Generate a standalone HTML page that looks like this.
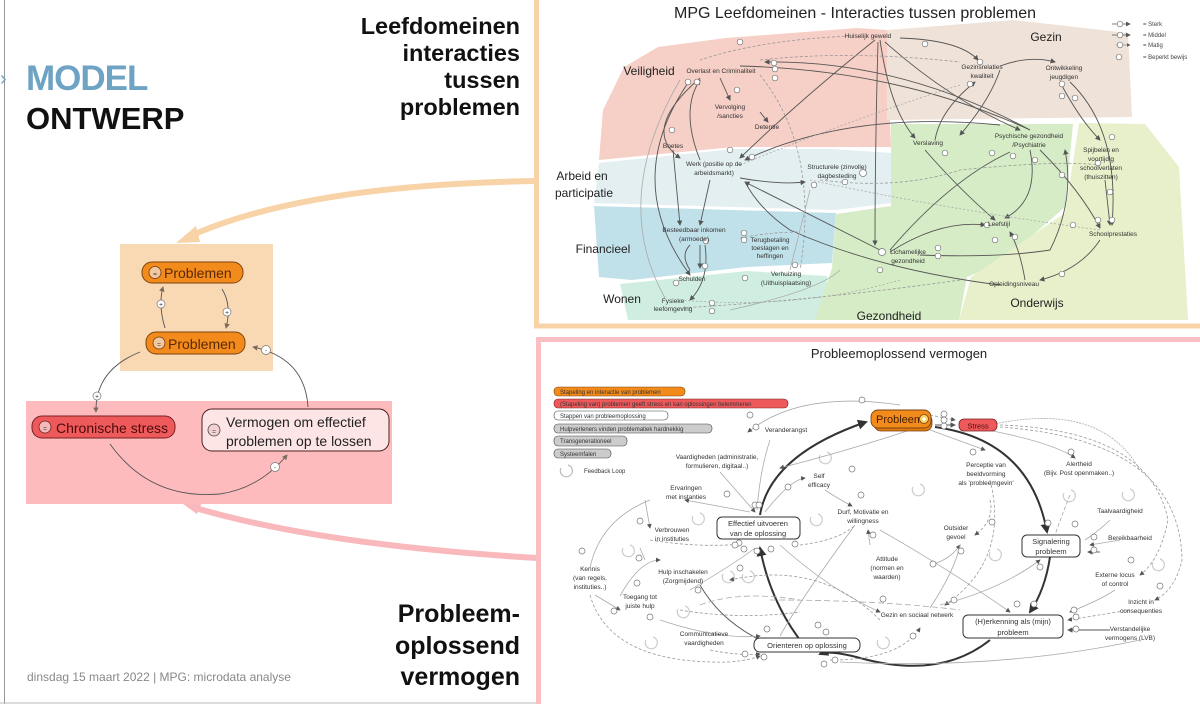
<!DOCTYPE html>
<html><head><meta charset="utf-8"><style>
html,body{margin:0;padding:0;background:#fff;}
svg{display:block;font-family:"Liberation Sans",sans-serif;}
.s{font-size:6.5px;fill:#333;text-anchor:middle;}
.m{font-size:7.5px;fill:#333;text-anchor:middle;}
.r{font-size:12px;fill:#222;text-anchor:middle;}
.d{fill:none;stroke:#555;stroke-width:0.9;}
.l{fill:none;stroke:#aaa;stroke-width:0.8;}
.ld{fill:none;stroke:#999;stroke-width:0.8;stroke-dasharray:3 2;}
.b{fill:none;stroke:#333;stroke-width:2;}
.c{fill:#fff;stroke:#777;stroke-width:0.7;}
</style></head><body>
<svg width="1200" height="704" viewBox="0 0 1200 704">
<defs>
<marker id="a" markerWidth="6" markerHeight="6" refX="5" refY="3" orient="auto"><path d="M0,0L6,3L0,6z" fill="#555"/></marker>
<marker id="ab" markerWidth="5" markerHeight="5" refX="4" refY="2.5" orient="auto"><path d="M0,0L5,2.5L0,5z" fill="#333"/></marker>
<marker id="ag" markerWidth="6" markerHeight="6" refX="5" refY="3" orient="auto"><path d="M0,0L6,3L0,6z" fill="#7a6a5a"/></marker>
</defs>
<line x1="4.5" y1="0" x2="4.5" y2="704" stroke="#999" stroke-width="1"/>
<line x1="0" y1="703" x2="540" y2="703" stroke="#bbb" stroke-width="1"/>
<text x="0" y="85" font-size="20" fill="#6fa3c4">›</text>
<text x="26" y="90" font-size="35" font-weight="bold" fill="#6fa3c4" style="letter-spacing:-1px">MODEL</text>
<text x="26" y="129" font-size="31" font-weight="bold" fill="#111">ONTWERP</text>
<g font-size="23.5" font-weight="bold" fill="#111" text-anchor="end">
<text x="520" y="34">Leefdomeinen</text><text x="520" y="61">interacties</text><text x="520" y="88">tussen</text><text x="520" y="115">problemen</text>
</g>
<g font-size="25" font-weight="bold" fill="#111" text-anchor="end">
<text x="520" y="622">Probleem-</text><text x="520" y="654">oplossend</text><text x="520" y="685">vermogen</text>
</g>
<text x="27" y="681" font-size="12" fill="#888">dinsdag 15 maart 2022 | MPG: microdata analyse</text>

<path d="M535,181 Q300,185 186,238" fill="none" stroke="#f8d3a8" stroke-width="6"/>
<path d="M176,243 L196,226 L200,242z" fill="#f8d3a8"/>
<path d="M537,558 Q320,545 192,507" fill="none" stroke="#f9b8bb" stroke-width="6"/>
<path d="M183,504 L203,500 L197,514z" fill="#f9b8bb"/>

<rect x="120" y="244" width="153" height="127" fill="#f9d9b3"/>
<rect x="26" y="401" width="366" height="103" fill="#fdbbbe"/>
<path d="M165,328 Q158,305 163,287" class="d" stroke="#888" marker-end="url(#ag)"/>
<circle cx="161" cy="304" r="4" class="c"/><text x="161" y="306.5" class="s" font-size="6">+</text>
<path d="M222,289 Q232,305 226,328" class="d" stroke="#888" marker-end="url(#ag)"/>
<circle cx="227" cy="312" r="4" class="c"/><text x="227" y="314.5" class="s" font-size="6">+</text>
<path d="M140,352 Q95,370 96,412" class="d" stroke="#888" marker-end="url(#ag)"/>
<circle cx="97" cy="396" r="4" class="c"/><text x="97" y="398.5" class="s" font-size="6">+</text>
<path d="M308,407 Q305,358 253,347" class="d" stroke="#888" marker-end="url(#ag)"/>
<circle cx="266" cy="350" r="4.5" class="c"/><text x="266" y="352.5" class="s" font-size="7">-</text>
<path d="M110,444 Q150,500 220,494 Q260,488 287,455" class="d" stroke="#888" marker-end="url(#ag)"/>
<circle cx="275" cy="467" r="4.5" class="c"/><text x="275" y="469.5" class="s" font-size="7">-</text>
<rect x="142" y="262" width="101" height="21" rx="10" fill="#f28b1b" stroke="#7a4310" stroke-width="1"/>
<circle cx="155" cy="272.5" r="6" fill="#f3c7a0" stroke="#6b3a10" stroke-width="0.8"/><text x="155" y="276" class="s" font-size="9" fill="#333">=</text>
<text x="164" y="278" font-size="14" fill="#5a2a05">Problemen</text>
<rect x="146" y="332" width="99" height="22" rx="10" fill="#f28b1b" stroke="#7a4310" stroke-width="1"/>
<circle cx="159" cy="343" r="6" fill="#f3c7a0" stroke="#6b3a10" stroke-width="0.8"/><text x="159" y="346.5" class="s" font-size="9">=</text>
<text x="168" y="349" font-size="14" fill="#5a2a05">Problemen</text>
<rect x="32" y="416" width="143" height="22" rx="10" fill="#ee5a5c" stroke="#7a2020" stroke-width="1"/>
<circle cx="45" cy="427" r="6" fill="#f3b8b8" stroke="#6b2020" stroke-width="0.8"/><text x="45" y="430.5" class="s" font-size="9">=</text>
<text x="56" y="433" font-size="14" fill="#4a0a0a">Chronische stress</text>
<rect x="202" y="409" width="187" height="42" rx="10" fill="#fde5e6" stroke="#4a2020" stroke-width="1"/>
<circle cx="214" cy="430" r="6" fill="#f5d0d0" stroke="#444" stroke-width="0.8"/><text x="214" y="433.5" class="s" font-size="9">=</text>
<text x="226" y="427" font-size="14" fill="#222">Vermogen om effectief</text>
<text x="226" y="446" font-size="14" fill="#222">problemen op te lossen</text>

<!-- TOP RIGHT PANEL -->
<rect x="536.5" y="-3" width="666" height="329" fill="#fff" stroke="#f8d3a8" stroke-width="5"/>
<polygon points="658,47 726,38 857,28 887,30 891,147 832,147 734,147 599,160 603,110 624,67" fill="#f6cfc6"/>
<polygon points="887,30 1014,20 1128,33 1132,117 887,120" fill="#efe2d8"/>
<polygon points="599,163 734,149 832,149 891,153 891,203 836,210 594,203" fill="#e4eff2"/>
<polygon points="594,206 836,213 832,263 747,267 632,280 599,277" fill="#c1e1ea"/>
<polygon points="620,284 747,271 827,276 827,320 628,320" fill="#cfeee1"/>
<polygon points="891,124 1073,124 1065,207 1001,263 967,277 959,320 815,320 832,268 836,214 891,206" fill="#d6ecc6"/>
<polygon points="1079,123 1145,124 1179,167 1188,320 959,320 971,277 1065,213" fill="#e7f0ca"/>
<text x="855" y="18" font-size="16" fill="#222" text-anchor="middle">MPG Leefdomeinen - Interacties tussen problemen</text>
<g font-size="6" fill="#444">
<line x1="1112" y1="24" x2="1130" y2="24" stroke="#555" stroke-width="0.8" marker-end="url(#a)"/><circle cx="1120" cy="24" r="2.8" class="c"/><text x="1143" y="26">= Sterk</text>
<line x1="1112" y1="35" x2="1130" y2="35" stroke="#555" stroke-width="0.8" marker-end="url(#a)"/><circle cx="1120" cy="35" r="2.8" class="c"/><text x="1143" y="37">= Middel</text>
<line x1="1116" y1="45" x2="1130" y2="45" stroke="#777" stroke-width="0.6" marker-end="url(#a)"/><circle cx="1120" cy="45" r="2.8" class="c"/><text x="1143" y="47">= Matig</text>
<circle cx="1119" cy="57" r="2.8" class="c"/><text x="1143" y="59">= Beperkt bewijs</text>
</g>
<g class="r" font-size="12">
<text x="1046" y="41">Gezin</text><text x="649" y="75">Veiligheid</text>
<text x="582" y="180">Arbeid en</text><text x="584" y="197">participatie</text>
<text x="603" y="253">Financieel</text><text x="622" y="303">Wonen</text>
<text x="889" y="320">Gezondheid</text><text x="1037" y="307">Onderwijs</text>
</g>
<g>
<path d="M850,36 Q760,40 700,60" class="ld"/>
<path d="M900,38 Q960,40 978,60" class="d" marker-end="url(#a)"/>
<path d="M1000,66 Q1030,55 1055,62" class="d" marker-end="url(#a)"/>
<path d="M875,40 Q800,100 740,158" class="d" marker-end="url(#a)"/>
<path d="M880,40 Q890,110 915,138" class="d" marker-end="url(#a)"/>
<path d="M878,42 Q875,150 875,245" class="d" marker-end="url(#a)"/>
<path d="M885,42 Q950,100 1020,130" class="d" marker-end="url(#a)"/>
<path d="M740,66 Q900,70 1030,130" class="d"/>
<path d="M1030,130 Q900,60 765,62" class="d" marker-end="url(#a)"/>
<path d="M700,78 Q640,130 680,158" class="d" marker-end="url(#a)"/>
<path d="M690,80 Q620,180 690,275" class="d" marker-end="url(#a)"/>
<path d="M680,80 Q610,200 665,298" class="l"/>
<path d="M720,78 L730,100" class="d" marker-end="url(#a)"/>
<path d="M760,112 L768,122" class="d" marker-end="url(#a)"/>
<path d="M673,150 L680,225" class="d" marker-end="url(#a)"/>
<path d="M700,160 Q680,110 700,80" class="d" marker-end="url(#a)"/>
<path d="M760,75 Q820,150 800,270" class="ld"/>
<path d="M740,178 Q780,185 805,182" class="d" marker-end="url(#a)"/>
<path d="M1000,125 Q850,110 745,160" class="d" marker-end="url(#a)"/>
<path d="M710,180 L700,225" class="d" marker-end="url(#a)"/>
<path d="M700,245 L700,268" class="d" marker-end="url(#a)"/>
<path d="M690,270 Q680,255 690,245" class="d"/>
<path d="M705,245 Q710,280 690,300" class="d" marker-end="url(#a)"/>
<path d="M880,250 Q800,210 745,182" class="d" marker-end="url(#a)"/>
<path d="M1000,285 Q880,270 790,230 Q760,210 745,182" class="d"/>
<path d="M890,250 Q950,180 1010,152" class="d"/>
<path d="M890,252 Q940,220 985,225" class="d" marker-end="url(#a)"/>
<path d="M925,150 Q960,190 995,220" class="d" marker-end="url(#a)"/>
<path d="M1030,150 Q1040,200 1005,218" class="d" marker-end="url(#a)"/>
<path d="M920,255 Q1000,258 1050,250 Q1075,200 1065,150" class="d" marker-end="url(#a)"/>
<path d="M1000,70 Q990,100 960,135" class="d" marker-end="url(#a)"/>
<path d="M935,140 Q940,110 975,82" class="d" marker-end="url(#a)"/>
<path d="M1060,82 Q1080,120 1100,140" class="d" marker-end="url(#a)"/>
<path d="M1070,82 Q1120,130 1112,225" class="d" marker-end="url(#a)"/>
<path d="M1105,180 L1110,225" class="d" marker-end="url(#a)"/>
<path d="M1100,240 Q1080,270 1040,280" class="d" marker-end="url(#a)"/>
<path d="M1040,150 Q1080,190 1100,228" class="d" marker-end="url(#a)"/>
<path d="M1025,280 Q1020,250 1010,232" class="d" marker-end="url(#a)"/>
<path d="M820,180 Q900,190 960,170 Q1060,160 1100,165" class="ld"/>
<path d="M810,180 Q950,210 1100,230" class="l" stroke-dasharray="2 2"/>
<path d="M960,280 Q820,300 680,308" class="ld"/>
<path d="M900,280 Q800,310 680,300" class="l" stroke-dasharray="2 2"/>
<path d="M730,310 Q820,290 840,270" class="l"/>
<path d="M740,165 Q850,120 960,85" class="l" stroke-dasharray="2 2"/>
<path d="M760,60 Q850,50 960,62" class="ld"/>
<path d="M790,270 Q800,230 810,190" class="l"/>
<path d="M740,238 Q770,232 800,232" class="ld"/>
</g>
<g>
<circle cx="740" cy="42" r="2.8" class="c"/><circle cx="925" cy="44" r="2.8" class="c"/><circle cx="980" cy="62" r="2.8" class="c"/><circle cx="774" cy="63" r="2.8" class="c"/><circle cx="775" cy="69" r="2.8" class="c"/><circle cx="775" cy="78" r="2.8" class="c"/><circle cx="688" cy="82" r="2.8" class="c"/><circle cx="697" cy="82" r="2.8" class="c"/><circle cx="737" cy="90" r="2.8" class="c"/><circle cx="672" cy="130" r="2.8" class="c"/><circle cx="730" cy="150" r="2.8" class="c"/><circle cx="752" cy="157" r="2.8" class="c"/><circle cx="814" cy="185" r="2.8" class="c"/><circle cx="863" cy="173" r="3.5" class="c"/><circle cx="945" cy="153" r="2.8" class="c"/><circle cx="992" cy="153" r="2.8" class="c"/><circle cx="1013" cy="156" r="2.8" class="c"/><circle cx="1035" cy="160" r="2.8" class="c"/><circle cx="1062" cy="175" r="2.8" class="c"/><circle cx="1098" cy="163" r="2.8" class="c"/><circle cx="1110" cy="192" r="2.8" class="c"/><circle cx="1098" cy="220" r="2.8" class="c"/><circle cx="1112" cy="220" r="2.8" class="c"/><circle cx="1073" cy="225" r="2.8" class="c"/><circle cx="987" cy="225" r="2.8" class="c"/><circle cx="995" cy="240" r="2.8" class="c"/><circle cx="1015" cy="237" r="2.8" class="c"/><circle cx="938" cy="248" r="2.8" class="c"/><circle cx="938" cy="256" r="2.8" class="c"/><circle cx="882" cy="252" r="3.5" class="c"/><circle cx="880" cy="270" r="2.8" class="c"/><circle cx="744" cy="233" r="2.8" class="c"/><circle cx="744" cy="240" r="2.8" class="c"/><circle cx="745" cy="278" r="2.8" class="c"/><circle cx="706" cy="241" r="2.8" class="c"/><circle cx="705" cy="266" r="2.8" class="c"/><circle cx="676" cy="283" r="2.8" class="c"/><circle cx="712" cy="303" r="2.8" class="c"/><circle cx="712" cy="311" r="2.8" class="c"/><circle cx="1062" cy="96" r="2.8" class="c"/><circle cx="1075" cy="98" r="2.8" class="c"/><circle cx="1112" cy="137" r="2.8" class="c"/><circle cx="1062" cy="84" r="2.8" class="c"/><circle cx="970" cy="84" r="2.8" class="c"/><circle cx="1062" cy="274" r="2.8" class="c"/><circle cx="795" cy="265" r="2.8" class="c"/><circle cx="845" cy="182" r="2.8" class="c"/>
</g>
<g class="s">
<text x="868" y="38">Huiselijk geweld</text>
<text x="721" y="73">Overlast en Criminaliteit</text>
<text x="982" y="69">Gezinsrelaties</text><text x="982" y="78">kwaliteit</text>
<text x="1064" y="70">Ontwikkeling</text><text x="1064" y="79">jeugdigen</text>
<text x="730" y="109">Vervolging</text><text x="730" y="118">/sancties</text>
<text x="767" y="129">Detentie</text>
<text x="673" y="148">Boetes</text>
<text x="714" y="166">Werk (positie op de</text><text x="714" y="175">arbeidsmarkt)</text>
<text x="837" y="169">Structurele (zinvolle)</text><text x="837" y="178">dagbesteding</text>
<text x="928" y="145">Verslaving</text>
<text x="1029" y="138">Psychische gezondheid</text><text x="1029" y="147">/Psychiatrie</text>
<text x="1101" y="152">Spijbelen en</text><text x="1101" y="161">voortijdig</text><text x="1101" y="170">schoolverlaten</text><text x="1101" y="179">(thuiszitten)</text>
<text x="694" y="232">Besteedbaar inkomen</text><text x="694" y="241">(armoede)</text>
<text x="770" y="242">Terugbetaling</text><text x="770" y="250">toeslagen en</text><text x="770" y="258">heffingen</text>
<text x="908" y="254">Lichamelijke</text><text x="908" y="263">gezondheid</text>
<text x="999" y="226">Leefstijl</text>
<text x="1113" y="236">Schoolprestaties</text>
<text x="692" y="281">Schulden</text>
<text x="786" y="276">Verhuizing</text><text x="786" y="285">(Uithuisplaatsing)</text>
<text x="1014" y="286">Opleidingsniveau</text>
<text x="673" y="303">Fysieke</text><text x="673" y="311">leefomgeving</text>
</g>

<!-- BOTTOM RIGHT PANEL -->
<rect x="538.5" y="339.5" width="664" height="370" fill="#fff" stroke="#f9bfc2" stroke-width="5"/>
<text x="899" y="358" font-size="13" fill="#222" text-anchor="middle">Probleemoplossend vermogen</text>
<g font-size="6" fill="#333">
<rect x="554" y="387" width="131" height="9" rx="4" fill="#f28b1b" stroke="#7a4310" stroke-width="0.6"/><text x="560" y="394">Stapeling en interactie van problemen</text>
<rect x="554" y="399" width="234" height="9" rx="4" fill="#ee5a5c" stroke="#7a2020" stroke-width="0.6"/><text x="560" y="406">(Stapeling van) problemen geeft stress en kan oplossingen belemmeren</text>
<rect x="554" y="411" width="114" height="9" rx="4" fill="#fff" stroke="#444" stroke-width="0.6"/><text x="560" y="418">Stappen van probleemoplossing</text>
<rect x="554" y="424" width="158" height="9" rx="4" fill="#ccc" stroke="#444" stroke-width="0.6"/><text x="560" y="431">Hulpverleners vinden problematiek hardnekkig</text>
<rect x="554" y="436" width="73" height="10" rx="4" fill="#ccc" stroke="#444" stroke-width="0.6"/><text x="560" y="443">Transgenerationeel</text>
<rect x="554" y="449" width="57" height="9" rx="4" fill="#ccc" stroke="#444" stroke-width="0.6"/><text x="560" y="456">Systeemfalen</text>
<path d="M568,465 A6,6 0 1 1 561,468" fill="none" stroke="#bbb" stroke-width="1.2"/><text x="584" y="473">Feedback Loop</text>
</g>
<g fill="none" stroke="#ccc" stroke-width="1.2">
<path d="M827,452 A6,6 0 1 1 820,455"/><path d="M920,484 A6,6 0 1 1 913,487"/><path d="M1071,490 A6,6 0 1 1 1064,493"/><path d="M1130,489 A6,6 0 1 1 1123,492"/><path d="M700,513 A6,6 0 1 1 693,516"/><path d="M818,514 A6,6 0 1 1 811,517"/><path d="M997,549 A6,6 0 1 1 990,552"/><path d="M1160,559 A6,6 0 1 1 1153,562"/><path d="M630,545 A6,6 0 1 1 623,548"/><path d="M730,571 A6,6 0 1 1 723,574"/><path d="M685,606 A6,6 0 1 1 678,609"/><path d="M885,637 A6,6 0 1 1 878,640"/><path d="M653,637 A6,6 0 1 1 646,640"/><path d="M750,571 A6,6 0 1 1 743,574"/>
</g>
<path d="M800,640 Q770,600 760,548" class="b" marker-end="url(#ab)"/>
<path d="M760,515 Q770,455 866,422" class="b" marker-end="url(#ab)"/>
<path d="M935,427 Q1030,440 1047,532" class="b" marker-end="url(#ab)"/>
<path d="M1050,557 Q1045,590 1030,612" class="b" marker-end="url(#ab)"/>
<path d="M990,640 Q940,680 860,658 Q830,650 820,654" class="b" marker-end="url(#ab)"/>
<g>
<path d="M935,425 L955,425" class="d" marker-end="url(#a)"/>
<path d="M930,415 L955,420" class="ld" marker-end="url(#a)"/>
<path d="M900,405 Q800,390 748,432" class="l" marker-end="url(#a)"/>
<path d="M910,430 Q850,450 780,468" class="l" marker-end="url(#a)"/>
<path d="M930,430 L985,450" class="l" marker-end="url(#a)"/>
<path d="M960,425 Q1050,440 1075,458" class="l" marker-end="url(#a)"/>
<path d="M1000,425 Q1150,430 1168,520 Q1160,560 1140,575" class="ld" marker-end="url(#a)"/>
<path d="M1000,427 Q1180,440 1182,560 Q1175,590 1155,600" class="ld" marker-end="url(#a)"/>
<path d="M990,425 Q1100,400 1140,470" class="l" stroke-dasharray="2 1"/>
<path d="M770,440 Q760,470 757,510" class="l"/>
<path d="M720,472 L755,512" class="l" marker-end="url(#a)"/>
<path d="M765,512 Q790,480 805,478" class="l" marker-end="url(#a)"/>
<path d="M750,512 L685,500" class="l" marker-end="url(#a)"/>
<path d="M825,490 Q840,500 852,506" class="l" marker-end="url(#a)"/>
<path d="M800,545 Q840,540 855,525" class="ld"/>
<path d="M650,540 Q700,548 740,544" class="ld" marker-end="url(#a)"/>
<path d="M855,525 Q800,600 780,636" class="l"/>
<path d="M870,545 L868,530" class="l" marker-end="url(#a)"/>
<path d="M880,530 Q950,570 1010,612" class="l" marker-end="url(#a)"/>
<path d="M930,565 Q950,560 960,545" class="l" marker-end="url(#a)"/>
<path d="M930,608 Q955,570 960,545" class="l"/>
<path d="M990,500 Q995,520 975,535" class="ld" marker-end="url(#a)"/>
<path d="M990,480 Q1010,560 945,605" class="ld" marker-end="url(#a)"/>
<path d="M940,605 Q1000,590 1040,560" class="l" marker-end="url(#a)"/>
<path d="M1070,495 Q1060,520 1055,535" class="l" stroke-dasharray="4 2"/>
<path d="M1110,520 Q1100,530 1085,540" class="l"/>
<path d="M1120,540 L1090,545" class="l" marker-end="url(#a)"/>
<path d="M1100,552 L1088,552" class="d" marker-end="url(#a)"/>
<path d="M1115,590 Q1100,600 1070,612" class="l" marker-end="url(#a)"/>
<path d="M1130,610 L1068,620" class="ld" marker-end="url(#a)"/>
<path d="M1110,630 L1068,630" class="d" marker-end="url(#a)"/>
<path d="M780,545 Q830,590 880,612" class="l" marker-end="url(#a)"/>
<path d="M880,620 Q820,560 730,580" class="ld" marker-end="url(#a)"/>
<path d="M700,585 Q720,620 760,640" class="d" marker-end="url(#a)"/>
<path d="M620,596 Q640,560 660,560" class="l" marker-end="url(#a)"/>
<path d="M645,560 L640,548" class="l"/>
<path d="M680,610 Q740,620 800,612" class="ld"/>
<path d="M660,620 Q720,640 760,636" class="l" marker-end="url(#a)"/>
<path d="M690,590 Q740,560 755,548" class="l"/>
<path d="M710,650 Q740,656 760,654" class="ld" marker-end="url(#a)"/>
<path d="M590,595 Q610,665 730,662 Q750,660 760,656" class="ld" marker-end="url(#a)"/>
<path d="M590,568 Q600,520 650,500" class="l"/>
<path d="M645,500 L650,528" class="l" marker-end="url(#a)"/>
<path d="M595,595 L620,610" class="l" marker-end="url(#a)"/>
<path d="M830,660 Q900,660 920,628" class="ld" marker-end="url(#a)"/>
<path d="M840,662 Q1000,670 1140,640" class="l"/>
<path d="M770,600 Q880,600 960,610" class="l" stroke-dasharray="6 3"/>
<path d="M700,605 Q740,590 800,600" class="l" stroke-dasharray="6 3"/>
</g>
<g>
<circle cx="756" cy="427" r="3" class="c"/><circle cx="750" cy="415" r="3" class="c"/><circle cx="862" cy="400" r="3" class="c"/><circle cx="944" cy="414" r="3" class="c"/><circle cx="944" cy="420" r="3" class="c"/><circle cx="944" cy="426" r="3" class="c"/><circle cx="973" cy="452" r="3" class="c"/><circle cx="1071" cy="452" r="3" class="c"/><circle cx="852" cy="469" r="3" class="c"/><circle cx="788" cy="487" r="3" class="c"/><circle cx="727" cy="494" r="3" class="c"/><circle cx="755" cy="505" r="3" class="c"/><circle cx="759" cy="505" r="3" class="c"/><circle cx="861" cy="495" r="3" class="c"/><circle cx="1048" cy="523" r="3" class="c"/><circle cx="1075" cy="524" r="3" class="c"/><circle cx="992" cy="522" r="3" class="c"/><circle cx="1094" cy="537" r="3" class="c"/><circle cx="1094" cy="550" r="3" class="c"/><circle cx="1131" cy="560" r="3" class="c"/><circle cx="1160" cy="586" r="3" class="c"/><circle cx="1074" cy="610" r="3" class="c"/><circle cx="1076" cy="617" r="3" class="c"/><circle cx="1076" cy="629" r="3" class="c"/><circle cx="739" cy="543" r="3" class="c"/><circle cx="735" cy="545" r="3" class="c"/><circle cx="744" cy="549" r="3" class="c"/><circle cx="757" cy="551" r="3" class="c"/><circle cx="771" cy="549" r="3" class="c"/><circle cx="795" cy="544" r="3" class="c"/><circle cx="873" cy="535" r="3" class="c"/><circle cx="933" cy="564" r="3" class="c"/><circle cx="961" cy="551" r="3" class="c"/><circle cx="954" cy="600" r="3" class="c"/><circle cx="1040" cy="567" r="3" class="c"/><circle cx="1017" cy="604" r="3" class="c"/><circle cx="1034" cy="604" r="3" class="c"/><circle cx="883" cy="599" r="3" class="c"/><circle cx="740" cy="568" r="3" class="c"/><circle cx="698" cy="590" r="3" class="c"/><circle cx="640" cy="521" r="3" class="c"/><circle cx="582" cy="551" r="3" class="c"/><circle cx="639" cy="558" r="3" class="c"/><circle cx="637" cy="583" r="3" class="c"/><circle cx="614" cy="611" r="3" class="c"/><circle cx="650" cy="617" r="3" class="c"/><circle cx="767" cy="629" r="3" class="c"/><circle cx="818" cy="625" r="3" class="c"/><circle cx="826" cy="632" r="3" class="c"/><circle cx="745" cy="654" r="3" class="c"/><circle cx="764" cy="657" r="3" class="c"/><circle cx="824" cy="664" r="3" class="c"/><circle cx="835" cy="660" r="3" class="c"/><circle cx="913" cy="636" r="3" class="c"/>
</g>
<rect x="874" y="414" width="58" height="17" rx="7" fill="#e07a10" stroke="#7a4310" stroke-width="0.8"/>
<rect x="871" y="410" width="60" height="18" rx="7" fill="#f28b1b" stroke="#7a4310" stroke-width="0.9"/>
<text x="876" y="423" font-size="11" fill="#4a2005">Probleem</text>
<circle cx="924" cy="419" r="4.5" fill="#fbd060" stroke="#7a4310" stroke-width="0.8"/><circle cx="924" cy="419" r="1.8" fill="#fff"/>
<rect x="959" y="419" width="38" height="12" rx="5" fill="#ee5a5c" stroke="#7a2020" stroke-width="0.8"/>
<text x="978" y="428.5" font-size="7.5" fill="#4a0a0a" text-anchor="middle">Stress</text>
<rect x="717" y="517" width="83" height="22" rx="5" fill="#fff" stroke="#333" stroke-width="1"/>
<text x="758" y="526" class="m" font-size="8">Effectief uitvoeren</text><text x="758" y="536" class="m" font-size="8">van de oplossing</text>
<rect x="1022" y="535" width="58" height="22" rx="5" fill="#fff" stroke="#333" stroke-width="1"/>
<text x="1051" y="544" class="m" font-size="8">Signalering</text><text x="1051" y="554" class="m" font-size="8">probleem</text>
<rect x="963" y="615" width="100" height="23" rx="5" fill="#fff" stroke="#333" stroke-width="1"/>
<text x="1013" y="624" class="m" font-size="8">(H)erkenning als (mijn)</text><text x="1013" y="635" class="m" font-size="8">probleem</text>
<rect x="754" y="638" width="106" height="14" rx="6" fill="#fff" stroke="#333" stroke-width="1"/>
<text x="807" y="648" class="m" font-size="8">Orienteren op oplossing</text>
<g class="s">
<text x="786" y="432">Veranderangst</text>
<text x="717" y="459">Vaardigheden (administratie,</text><text x="717" y="468">formulieren, digitaal..)</text>
<text x="819" y="478">Self</text><text x="819" y="487">efficacy</text>
<text x="686" y="490">Ervaringen</text><text x="686" y="499">met instanties</text>
<text x="863" y="514">Durf, Motivatie en</text><text x="863" y="523">willingness</text>
<text x="986" y="467">Perceptie van</text><text x="986" y="476">beeldvorming</text><text x="986" y="485">als 'probleemgevin'</text>
<text x="1079" y="466">Alertheid</text><text x="1079" y="475">(Bijv. Post openmaken..)</text>
<text x="1120" y="513">Taalvaardigheid</text>
<text x="1130" y="540">Bereikbaarheid</text>
<text x="956" y="530">Outsider</text><text x="956" y="539">gevoel</text>
<text x="672" y="532">Verbrouwen</text><text x="672" y="541">in instituties</text>
<text x="887" y="561">Attitude</text><text x="887" y="570">(normen en</text><text x="887" y="579">waarden)</text>
<text x="590" y="571">Kennis</text><text x="590" y="580">(van regels,</text><text x="590" y="589">instituties..)</text>
<text x="683" y="574">Hulp inschakelen</text><text x="683" y="583">(Zorgmijdend)</text>
<text x="1115" y="577">Externe locus</text><text x="1115" y="586">of control</text>
<text x="640" y="599">Toegang tot</text><text x="640" y="608">juiste hulp</text>
<text x="917" y="617">Gezin en sociaal netwerk</text>
<text x="1141" y="604">Inzicht in</text><text x="1141" y="613">consequenties</text>
<text x="704" y="636">Communicatieve</text><text x="704" y="645">vaardigheden</text>
<text x="1130" y="631">Verstandelijke</text><text x="1130" y="640">vermogens (LVB)</text>
</g>
</svg>
</body></html>
